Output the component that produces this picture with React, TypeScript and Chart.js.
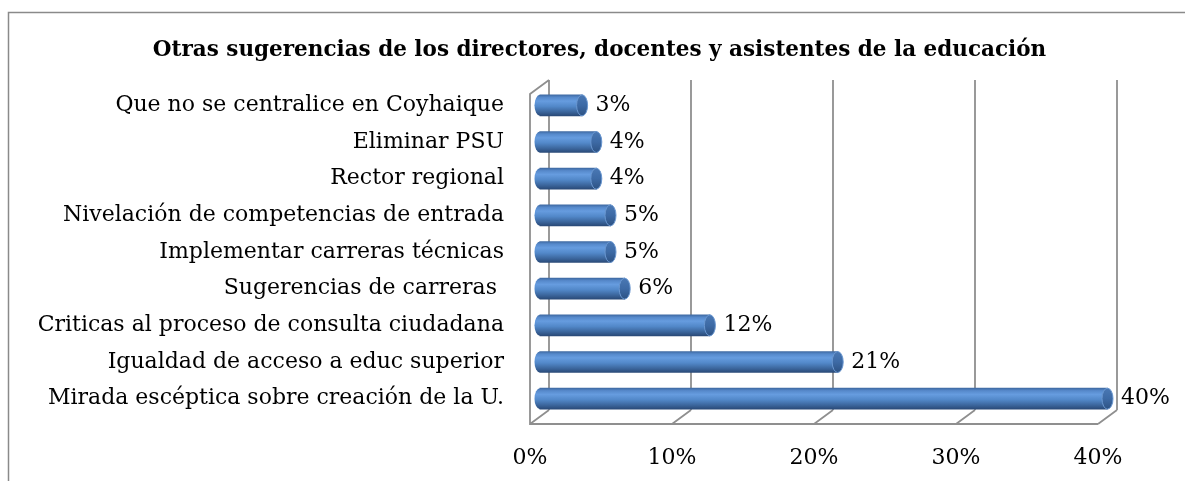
import React, { useEffect, useRef } from "react";
import { Chart, registerables } from "chart.js";

Chart.register(...registerables);

const titleText = "Otras sugerencias de los directores, docentes y asistentes de la educación";
const categories = [
  "Que no se centralice en Coyhaique",
  "Eliminar PSU",
  "Rector regional",
  "Nivelación de competencias de entrada",
  "Implementar carreras técnicas",
  "Sugerencias de carreras ",
  "Criticas al proceso de consulta ciudadana",
  "Igualdad de acceso a educ superior",
  "Mirada escéptica sobre creación de la U.",
];
const values = [3, 4, 4, 5, 5, 6, 12, 21, 40];
const xTicks = [0, 10, 20, 30, 40];

const FONT = "'DejaVu Serif', serif";
const LABEL_SIZE = 22;
const DX = 9.5;
const DY = 7;
const BAR_H = 21;
const CAP_RX = 5.5;
const GRID = "#8f8f8f";

function barGradient(ctx: CanvasRenderingContext2D, yc: number) {
  if (!isFinite(yc)) return "#4f81bd";
  const g = ctx.createLinearGradient(0, yc - BAR_H / 2, 0, yc + BAR_H / 2);
  g.addColorStop(0, "#3f6aa3");
  g.addColorStop(0.12, "#5689cb");
  g.addColorStop(0.3, "#669cdf");
  g.addColorStop(0.55, "#5288c9");
  g.addColorStop(0.8, "#3c679e");
  g.addColorStop(1, "#2a4a78");
  return g;
}

const framePlugin = {
  id: "frame3d",
  beforeDatasetsDraw(chart: any) {
    const { ctx, chartArea, scales } = chart;
    const xs = scales.x;
    const top = chartArea.top;
    const bottom = chartArea.bottom;
    ctx.save();
    ctx.strokeStyle = "#8a8a8a";
    ctx.lineWidth = 1.5;
    ctx.beginPath();
    ctx.moveTo(8.5, 481);
    ctx.lineTo(8.5, 12.5);
    ctx.lineTo(1185, 12.5);
    ctx.stroke();

    ctx.strokeStyle = GRID;
    ctx.lineWidth = 1.8;
    ctx.beginPath();
    xTicks.forEach((v) => {
      const x = xs.getPixelForValue(v);
      ctx.moveTo(x + DX, top - DY);
      ctx.lineTo(x + DX, bottom - DY);
      ctx.moveTo(x - DX, bottom + DY);
      ctx.lineTo(x + DX, bottom - DY);
    });
    const x0 = xs.getPixelForValue(xTicks[0]);
    const xN = xs.getPixelForValue(xTicks[xTicks.length - 1]);
    ctx.moveTo(x0 + DX, top - DY);
    ctx.lineTo(x0 - DX, top + DY);
    ctx.lineTo(x0 - DX, bottom + DY);
    ctx.lineTo(xN - DX, bottom + DY);
    ctx.stroke();
    ctx.restore();
  },
  afterDatasetsDraw(chart: any) {
    const { ctx, scales } = chart;
    const xs = scales.x;
    const ys = scales.y;
    ctx.save();
    values.forEach((v, i) => {
      const yc = ys.getPixelForValue(i);
      const x0 = xs.getPixelForValue(0);
      const x1 = xs.getPixelForValue(v);
      ctx.beginPath();
      ctx.ellipse(x0 + 0.5, yc, CAP_RX, BAR_H / 2, 0, Math.PI / 2, (Math.PI * 3) / 2);
      ctx.closePath();
      ctx.fillStyle = barGradient(ctx, yc);
      ctx.fill();
      ctx.beginPath();
      ctx.ellipse(x1, yc, CAP_RX, BAR_H / 2, 0, 0, Math.PI * 2);
      const g = ctx.createLinearGradient(0, yc - BAR_H / 2, 0, yc + BAR_H / 2);
      g.addColorStop(0, "#4a78b4");
      g.addColorStop(0.5, "#3d6aa5");
      g.addColorStop(1, "#2d5283");
      ctx.fillStyle = g;
      ctx.fill();
      ctx.lineWidth = 1;
      ctx.strokeStyle = "#6a97d0";
      ctx.stroke();
      ctx.fillStyle = "#000";
      ctx.font = `${LABEL_SIZE}px ${FONT}`;
      ctx.textAlign = "left";
      ctx.textBaseline = "middle";
      ctx.fillText(`${v}%`, x1 + CAP_RX + 8, yc);
    });
    ctx.restore();
  },
  afterDraw(chart: any) {
    const { ctx } = chart;
    ctx.save();
    ctx.fillStyle = "#000";
    ctx.font = `bold 21.5px ${FONT}`;
    ctx.textAlign = "center";
    ctx.textBaseline = "middle";
    ctx.fillText(titleText, 599.5, 50);
    ctx.restore();
  },
};

export default function App() {
  const ref = useRef<HTMLCanvasElement | null>(null);
  useEffect(() => {
    if (!ref.current) return;
    const chart = new Chart(ref.current, {
      type: "bar",
      data: {
        labels: categories,
        datasets: [
          {
            data: values,
            barThickness: BAR_H,
            backgroundColor: (c: any) => {
              const ys = c.chart.scales && c.chart.scales.y;
              if (!ys || c.dataIndex === undefined) return "#4f81bd";
              return barGradient(c.chart.ctx, ys.getPixelForValue(c.dataIndex));
            },
            borderWidth: 0,
          },
        ],
      },
      plugins: [framePlugin],
      options: {
        indexAxis: "y",
        animation: false,
        responsive: true,
        maintainAspectRatio: false,
        layout: { padding: { top: 87, right: 77.5, bottom: 0, left: 0 } },
        plugins: {
          legend: { display: false },
          tooltip: { enabled: false },
          title: { display: false },
        },
        scales: {
          y: {
            grid: { display: false, drawTicks: false },
            border: { display: false },
            ticks: {
              autoSkip: false,
              padding: 35.5,
              color: "#000",
              font: { family: FONT, size: LABEL_SIZE },
            },
            afterFit: (s: any) => {
              s.width = 539.5;
            },
          },
          x: {
            min: 0,
            max: 40,
            grid: { display: false, drawTicks: false },
            border: { display: false },
            ticks: {
              stepSize: 10,
              padding: 28,
              labelOffset: -DX,
              color: "#000",
              font: { family: FONT, size: LABEL_SIZE },
              callback: (v: any) => `${v}%`,
            },
            afterFit: (s: any) => {
              s.height = 64;
            },
          },
        },
      },
    } as any);
    return () => chart.destroy();
  }, []);
  return (
    <div style={{ position: "absolute", left: 0, top: 0, width: 1185, height: 481, background: "#fff" }}>
      <canvas ref={ref} />
    </div>
  );
}
